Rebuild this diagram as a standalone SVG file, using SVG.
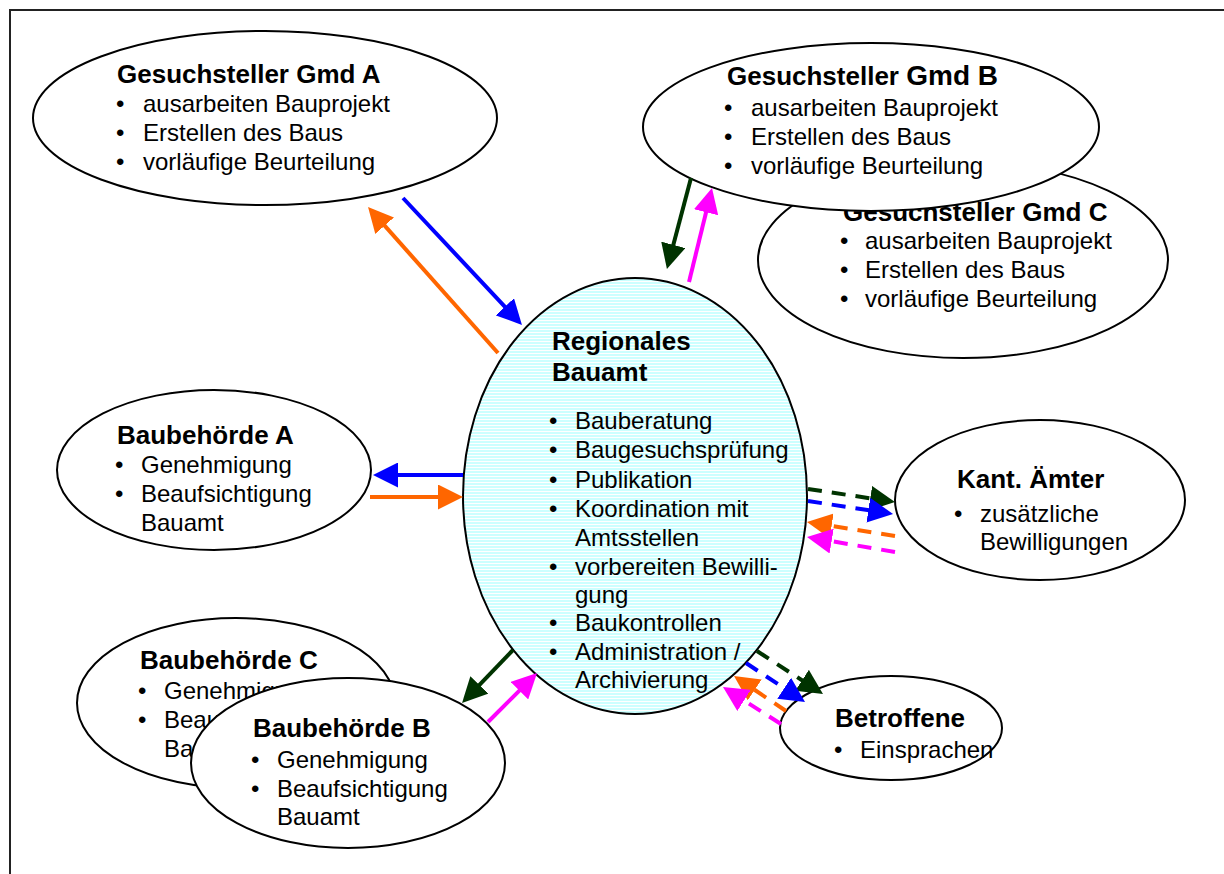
<svg xmlns="http://www.w3.org/2000/svg" width="1224" height="874" viewBox="0 0 1224 874">
<style>
.node{fill:#fff;stroke:#000;stroke-width:2}
.t{font-family:"Liberation Sans",Arial,sans-serif;font-size:24px;fill:#000}
.b{font-weight:bold;font-size:26px}
.c{fill:none;stroke-width:4}
.d{stroke-dasharray:14 10}
.blue{stroke:#0000ff}.orange{stroke:#ff6600}.green{stroke:#003300}.mag{stroke:#ff00ff}
</style>
<defs>
<pattern id="stripes" width="8" height="3" patternUnits="userSpaceOnUse">
<rect width="8" height="3" fill="#ccffff"/>
<rect y="2" width="8" height="1" fill="#ffffff"/>
</pattern>
<marker id="hBlue" markerUnits="userSpaceOnUse" markerWidth="25" markerHeight="25" refX="4" refY="12.5" orient="auto"><path d="M0,0 L25,12.5 L0,25 z" fill="#0000ff"/></marker>
<marker id="hOrange" markerUnits="userSpaceOnUse" markerWidth="25" markerHeight="25" refX="4" refY="12.5" orient="auto"><path d="M0,0 L25,12.5 L0,25 z" fill="#ff6600"/></marker>
<marker id="hGreen" markerUnits="userSpaceOnUse" markerWidth="25" markerHeight="25" refX="4" refY="12.5" orient="auto"><path d="M0,0 L25,12.5 L0,25 z" fill="#003300"/></marker>
<marker id="hMag" markerUnits="userSpaceOnUse" markerWidth="25" markerHeight="25" refX="4" refY="12.5" orient="auto"><path d="M0,0 L25,12.5 L0,25 z" fill="#ff00ff"/></marker>
</defs>
<rect width="1224" height="874" fill="#fff"/>
<rect x="10" y="10" width="1400" height="1000" fill="none" stroke="#222" stroke-width="2"/>

<g id="gmdA">
<ellipse class="node" cx="265" cy="118" rx="232" ry="87"/>
<text class="t b" x="117" y="83">Gesuchsteller Gmd A</text>
<text class="t" x="116" y="112">•</text><text class="t" x="143" y="112">ausarbeiten Bauprojekt</text>
<text class="t" x="116" y="141">•</text><text class="t" x="143" y="141">Erstellen des Baus</text>
<text class="t" x="116" y="170">•</text><text class="t" x="143" y="170">vorläufige Beurteilung</text>
</g>

<g id="gmdC">
<ellipse class="node" cx="963" cy="260" rx="205" ry="98"/>
<text class="t b" x="843" y="221">Gesuchsteller Gmd C</text>
<text class="t" x="840" y="249">•</text><text class="t" x="865" y="249">ausarbeiten Bauprojekt</text>
<text class="t" x="840" y="278">•</text><text class="t" x="865" y="278">Erstellen des Baus</text>
<text class="t" x="840" y="307">•</text><text class="t" x="865" y="307">vorläufige Beurteilung</text>
</g>

<g id="gmdB">
<ellipse class="node" cx="871" cy="127" rx="228" ry="84"/>
<text class="t b" x="727" y="85">Gesuchsteller <tspan font-size="28">Gmd B</tspan></text>
<text class="t" x="724" y="116">•</text><text class="t" x="751" y="116">ausarbeiten Bauprojekt</text>
<text class="t" x="724" y="145">•</text><text class="t" x="751" y="145">Erstellen des Baus</text>
<text class="t" x="724" y="174">•</text><text class="t" x="751" y="174">vorläufige Beurteilung</text>
</g>

<g id="bauamt">
<ellipse cx="635" cy="496" rx="172" ry="218" fill="url(#stripes)" stroke="#000" stroke-width="2"/>
<text class="t b" x="552" y="350">Regionales</text>
<text class="t b" x="552" y="381">Bauamt</text>
<text class="t" x="549" y="429">•</text><text class="t" x="575" y="429">Bauberatung</text>
<text class="t" x="549" y="458">•</text><text class="t" x="575" y="458">Baugesuchsprüfung</text>
<text class="t" x="549" y="488">•</text><text class="t" x="575" y="488">Publikation</text>
<text class="t" x="549" y="517">•</text><text class="t" x="575" y="517">Koordination mit</text>
<text class="t" x="575" y="546">Amtsstellen</text>
<text class="t" x="549" y="575">•</text><text class="t" x="575" y="575">vorbereiten Bewilli-</text>
<text class="t" x="575" y="603">gung</text>
<text class="t" x="549" y="631">•</text><text class="t" x="575" y="631">Baukontrollen</text>
<text class="t" x="549" y="660">•</text><text class="t" x="575" y="660">Administration /</text>
<text class="t" x="575" y="688">Archivierung</text>
</g>

<g id="behoerdeA">
<ellipse class="node" cx="214" cy="470" rx="157" ry="80"/>
<text class="t b" x="117" y="444">Baubehörde A</text>
<text class="t" x="115" y="473">•</text><text class="t" x="141" y="473">Genehmigung</text>
<text class="t" x="115" y="502">•</text><text class="t" x="141" y="502">Beaufsichtigung</text>
<text class="t" x="141" y="531">Bauamt</text>
</g>

<g id="kant">
<ellipse class="node" cx="1040" cy="500" rx="145" ry="80"/>
<text class="t b" x="957" y="488">Kant. Ämter</text>
<text class="t" x="954" y="522">•</text><text class="t" x="980" y="522">zusätzliche</text>
<text class="t" x="980" y="550">Bewilligungen</text>
</g>

<g id="behoerdeC">
<ellipse class="node" cx="236" cy="703" rx="159" ry="85"/>
<text class="t b" x="140" y="669">Baubehörde C</text>
<text class="t" x="138" y="699">•</text><text class="t" x="164" y="699">Genehmigung</text>
<text class="t" x="138" y="728">•</text><text class="t" x="164" y="728">Beaufsichtigung</text>
<text class="t" x="164" y="757">Bauamt</text>
</g>

<g id="behoerdeB">
<ellipse class="node" cx="348" cy="763" rx="157" ry="85"/>
<text class="t b" x="253" y="737">Baubehörde B</text>
<text class="t" x="251" y="768">•</text><text class="t" x="277" y="768">Genehmigung</text>
<text class="t" x="251" y="797">•</text><text class="t" x="277" y="797">Beaufsichtigung</text>
<text class="t" x="277" y="825">Bauamt</text>
</g>

<g id="betroffene">
<ellipse class="node" cx="891" cy="728" rx="111" ry="52"/>
<text class="t b" x="835" y="727">Betroffene</text>
<text class="t" x="834" y="758">•</text><text class="t" x="860" y="758">Einsprachen</text>
</g>

<g id="connectors">
<line class="c blue" x1="403" y1="198" x2="507.6" y2="309.7" marker-end="url(#hBlue)"/>
<line class="c orange" x1="498" y1="353" x2="382" y2="222.7" marker-end="url(#hOrange)"/>
<line class="c green" x1="691" y1="178" x2="672.3" y2="248.7" marker-end="url(#hGreen)"/>
<line class="c mag" x1="689" y1="282" x2="707" y2="208.4" marker-end="url(#hMag)"/>
<line class="c blue" x1="463" y1="475" x2="394" y2="475" marker-end="url(#hBlue)"/>
<line class="c orange" x1="370" y1="497" x2="442" y2="497" marker-end="url(#hOrange)"/>
<line class="c d green" x1="808" y1="489" x2="874.2" y2="498.9" marker-end="url(#hGreen)"/>
<line class="c d blue" x1="808" y1="501" x2="872.3" y2="510.8" marker-end="url(#hBlue)"/>
<line class="c d orange" x1="895" y1="536" x2="827.7" y2="525.3" marker-end="url(#hOrange)"/>
<line class="c d mag" x1="895" y1="552" x2="827.7" y2="540.5" marker-end="url(#hMag)"/>
<line class="c d green" x1="757" y1="651" x2="805.4" y2="682.5" marker-end="url(#hGreen)"/>
<line class="c d blue" x1="746" y1="663" x2="787.5" y2="690.4" marker-end="url(#hBlue)"/>
<line class="c d orange" x1="786" y1="711" x2="751.4" y2="687.7" marker-end="url(#hOrange)"/>
<line class="c d mag" x1="781" y1="724" x2="740.7" y2="698.3" marker-end="url(#hMag)"/>
<line class="c green" x1="513" y1="650" x2="476.6" y2="687.9" marker-end="url(#hGreen)"/>
<line class="c mag" x1="488" y1="722" x2="522.2" y2="687.8" marker-end="url(#hMag)"/>
</g>
</svg>
